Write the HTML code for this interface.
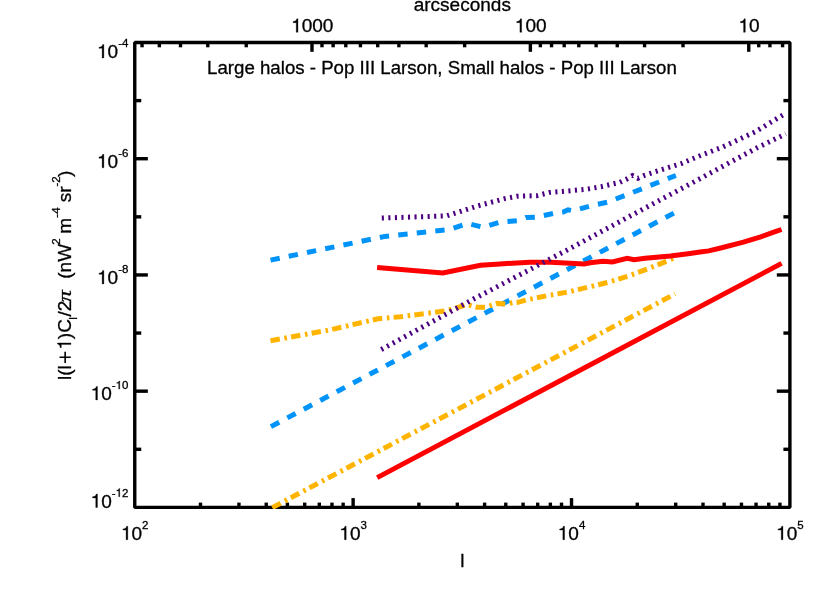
<!DOCTYPE html>
<html><head><meta charset="utf-8"><title>plot</title>
<style>
html,body{margin:0;padding:0;background:#fff;}
body{width:830px;height:593px;overflow:hidden;}
svg{display:block;will-change:transform;}
text{font-family:"Liberation Sans",sans-serif;fill:#000;stroke:#000;stroke-width:0.3px;}
.pi{font-family:"Liberation Serif",serif;font-style:italic;}
</style></head><body>
<svg width="830" height="593" viewBox="0 0 830 593">
<rect x="0" y="0" width="830" height="593" fill="#fff"/>
<g stroke="#000" stroke-width="3.4" stroke-linecap="butt" fill="none">
<path d="M200.49 507.4 V502.6"/>
<path d="M238.95 507.4 V502.6"/>
<path d="M266.23 507.4 V502.6"/>
<path d="M287.39 507.4 V502.6"/>
<path d="M304.69 507.4 V502.6"/>
<path d="M319.31 507.4 V502.6"/>
<path d="M331.97 507.4 V502.6"/>
<path d="M343.14 507.4 V502.6"/>
<path d="M353.13 507.4 V498.1"/>
<path d="M418.87 507.4 V502.6"/>
<path d="M457.33 507.4 V502.6"/>
<path d="M484.61 507.4 V502.6"/>
<path d="M505.78 507.4 V502.6"/>
<path d="M523.07 507.4 V502.6"/>
<path d="M537.69 507.4 V502.6"/>
<path d="M550.35 507.4 V502.6"/>
<path d="M561.52 507.4 V502.6"/>
<path d="M571.52 507.4 V498.1"/>
<path d="M637.26 507.4 V502.6"/>
<path d="M675.71 507.4 V502.6"/>
<path d="M703 507.4 V502.6"/>
<path d="M724.16 507.4 V502.6"/>
<path d="M741.45 507.4 V502.6"/>
<path d="M756.07 507.4 V502.6"/>
<path d="M768.74 507.4 V502.6"/>
<path d="M779.91 507.4 V502.6"/>
<path d="M782.58 42.5 V47.3"/>
<path d="M769.91 42.5 V47.3"/>
<path d="M758.74 42.5 V47.3"/>
<path d="M748.75 42.5 V51.8"/>
<path d="M683.01 42.5 V47.3"/>
<path d="M644.56 42.5 V47.3"/>
<path d="M617.27 42.5 V47.3"/>
<path d="M596.11 42.5 V47.3"/>
<path d="M578.82 42.5 V47.3"/>
<path d="M564.2 42.5 V47.3"/>
<path d="M551.53 42.5 V47.3"/>
<path d="M540.36 42.5 V47.3"/>
<path d="M530.37 42.5 V51.8"/>
<path d="M464.63 42.5 V47.3"/>
<path d="M426.17 42.5 V47.3"/>
<path d="M398.89 42.5 V47.3"/>
<path d="M377.72 42.5 V47.3"/>
<path d="M360.43 42.5 V47.3"/>
<path d="M345.81 42.5 V47.3"/>
<path d="M333.15 42.5 V47.3"/>
<path d="M321.98 42.5 V47.3"/>
<path d="M311.98 42.5 V51.8"/>
<path d="M246.24 42.5 V47.3"/>
<path d="M207.79 42.5 V47.3"/>
<path d="M180.5 42.5 V47.3"/>
<path d="M159.34 42.5 V47.3"/>
<path d="M142.05 42.5 V47.3"/>
<path d="M134.75 100.61 H141.25"/>
<path d="M789.9 100.61 H783.4"/>
<path d="M134.75 158.72 H147.85"/>
<path d="M789.9 158.72 H776.8"/>
<path d="M134.75 216.84 H141.25"/>
<path d="M789.9 216.84 H783.4"/>
<path d="M134.75 274.95 H147.85"/>
<path d="M789.9 274.95 H776.8"/>
<path d="M134.75 333.06 H141.25"/>
<path d="M789.9 333.06 H783.4"/>
<path d="M134.75 391.17 H147.85"/>
<path d="M789.9 391.17 H776.8"/>
<path d="M134.75 449.29 H141.25"/>
<path d="M789.9 449.29 H783.4"/>
</g>
<rect x="134.75" y="42.5" width="655.15" height="464.9" fill="none" stroke="#000" stroke-width="3.4" stroke-linejoin="bevel"/>
<clipPath id="c"><rect x="132.75" y="40.5" width="659.15" height="468.6"/></clipPath>
<g clip-path="url(#c)">
<path d="M270.5 260.1 L384.8 236.4 L449 229.6 L467.4 223.5 L483 227.2 L500 222.1 L518 220.6 L526 217.5 L536 217.2 L554.2 213.2 L563.2 212 L568 209.8 L573 210.8 L590.3 206 L608 202 L675.9 175.5" fill="none" stroke="#0094fa" stroke-width="5" stroke-linejoin="miter" stroke-linecap="butt" stroke-dasharray="9.4 9.21"/>
<path d="M270.9 426.6 L674.8 212.6" fill="none" stroke="#0094fa" stroke-width="5" stroke-linejoin="miter" stroke-linecap="butt" stroke-dasharray="9.4 9.21"/>
<path d="M270.5 340.7 L330.8 329.7 L378 318.8 L400 316.8 L445 311 L467.3 304.7 L476.5 307.2 L486 307.2 L497 303.4 L506.5 304.1 L512.5 302.7 L518 302.3 L527.6 299.7 L547 295.7 L568 292.1 L587.5 287.3 L608.3 282.3 L628.3 276.1 L647.6 268.9 L666.9 261.1 L674.9 257.8" fill="none" stroke="#ffb400" stroke-width="5" stroke-linejoin="miter" stroke-linecap="butt" stroke-dasharray="9.45 4.65 2.6 4.2"/>
<path d="M272.3 507.6 L675.1 293.87" fill="none" stroke="#ffb400" stroke-width="5" stroke-linejoin="miter" stroke-linecap="butt" stroke-dasharray="9.45 4.7 2.6 4.26"/>
<path d="M377.1 267.6 L442.8 273 L480.5 265.2 L500 263.9 L530 262.3 L550.6 262.3 L584.3 264.1 L590 262.7 L603 261.3 L612.4 262 L627.2 258.4 L634.1 259.8 L645 258.3 L670.5 256 L690 253.4 L700 252.1 L708.7 250.9 L721.7 247.7 L743.4 242.2 L760.7 236.8 L775.9 231.4 L781.6 229.5" fill="none" stroke="#fe0000" stroke-width="5" stroke-linejoin="miter" stroke-linecap="butt"/>
<path d="M377.2 477.6 L781.6 263.4" fill="none" stroke="#fe0000" stroke-width="5" stroke-linejoin="miter" stroke-linecap="butt"/>
<path d="M381.8 218.1 L447 215.8 L478.2 205.8 L504.7 198.6 L516.8 196.3 L536.7 195.7 L549.3 192.5 L562 191.5 L587.3 189.1 L601.1 186.7 L619.9 182.3 L626 179.5 L632.5 175.6 L638 178.3 L644.6 175.3 L662.7 169.3 L681.9 163.3 L699.4 156 L722.9 146.9 L754.9 132 L783.3 114.7" fill="none" stroke="#4b0082" stroke-width="5" stroke-linejoin="miter" stroke-linecap="butt" stroke-dasharray="2.1 4.446"/>
<path d="M381.3 349.5 L474 298.8 L567 250.1 L641 210.2 L699.4 179 L756.6 148 L785.8 133.9" fill="none" stroke="#4b0082" stroke-width="5" stroke-linejoin="miter" stroke-linecap="butt" stroke-dasharray="2.1 4.443"/>
</g>
<path transform="translate(120.99 539.7) scale(0.01900 -0.01900)" d="M359 0 H268 V505 H101 V566 C205 570 272 598 297 709 H359 Z" fill="#000" stroke="#000" stroke-width="15.79"/>
<text x="131.55" y="539.7" font-size="19">0</text>
<text x="142.12" y="528.9" font-size="11.5">2</text>
<path transform="translate(339.37 539.7) scale(0.01900 -0.01900)" d="M359 0 H268 V505 H101 V566 C205 570 272 598 297 709 H359 Z" fill="#000" stroke="#000" stroke-width="15.79"/>
<text x="349.94" y="539.7" font-size="19">0</text>
<text x="360.5" y="528.9" font-size="11.5">3</text>
<path transform="translate(557.76 539.7) scale(0.01900 -0.01900)" d="M359 0 H268 V505 H101 V566 C205 570 272 598 297 709 H359 Z" fill="#000" stroke="#000" stroke-width="15.79"/>
<text x="568.32" y="539.7" font-size="19">0</text>
<text x="578.88" y="528.9" font-size="11.5">4</text>
<path transform="translate(776.14 539.7) scale(0.01900 -0.01900)" d="M359 0 H268 V505 H101 V566 C205 570 272 598 297 709 H359 Z" fill="#000" stroke="#000" stroke-width="15.79"/>
<text x="786.7" y="539.7" font-size="19">0</text>
<text x="797.27" y="528.9" font-size="11.5">5</text>
<path transform="translate(291.16 32.3) scale(0.01900 -0.01900)" d="M359 0 H268 V505 H101 V566 C205 570 272 598 297 709 H359 Z" fill="#000" stroke="#000" stroke-width="15.79"/>
<text x="301.72" y="32.3" font-size="19">000</text>
<path transform="translate(514.82 32.3) scale(0.01900 -0.01900)" d="M359 0 H268 V505 H101 V566 C205 570 272 598 297 709 H359 Z" fill="#000" stroke="#000" stroke-width="15.79"/>
<text x="525.39" y="32.3" font-size="19">00</text>
<path transform="translate(738.49 32.3) scale(0.01900 -0.01900)" d="M359 0 H268 V505 H101 V566 C205 570 272 598 297 709 H359 Z" fill="#000" stroke="#000" stroke-width="15.79"/>
<text x="749.05" y="32.3" font-size="19">0</text>
<path transform="translate(97.05 57.95) scale(0.01900 -0.01900)" d="M359 0 H268 V505 H101 V566 C205 570 272 598 297 709 H359 Z" fill="#000" stroke="#000" stroke-width="15.79"/>
<text x="107.61" y="57.95" font-size="19">0</text>
<text x="118.18" y="47.15" font-size="11.5">-4</text>
<path transform="translate(97.05 167.8) scale(0.01900 -0.01900)" d="M359 0 H268 V505 H101 V566 C205 570 272 598 297 709 H359 Z" fill="#000" stroke="#000" stroke-width="15.79"/>
<text x="107.61" y="167.8" font-size="19">0</text>
<text x="118.18" y="157" font-size="11.5">-6</text>
<path transform="translate(97.05 283.9) scale(0.01900 -0.01900)" d="M359 0 H268 V505 H101 V566 C205 570 272 598 297 709 H359 Z" fill="#000" stroke="#000" stroke-width="15.79"/>
<text x="107.61" y="283.9" font-size="19">0</text>
<text x="118.18" y="273.1" font-size="11.5">-8</text>
<path transform="translate(90.65 399.9) scale(0.01900 -0.01900)" d="M359 0 H268 V505 H101 V566 C205 570 272 598 297 709 H359 Z" fill="#000" stroke="#000" stroke-width="15.79"/>
<text x="101.22" y="399.9" font-size="19">0</text>
<text x="111.78" y="389.1" font-size="11.5">-</text>
<path transform="translate(115.61 389.1) scale(0.01150 -0.01150)" d="M359 0 H268 V505 H101 V566 C205 570 272 598 297 709 H359 Z" fill="#000" stroke="#000" stroke-width="26.09"/>
<text x="122.01" y="389.1" font-size="11.5">0</text>
<path transform="translate(90.65 507.5) scale(0.01900 -0.01900)" d="M359 0 H268 V505 H101 V566 C205 570 272 598 297 709 H359 Z" fill="#000" stroke="#000" stroke-width="15.79"/>
<text x="101.22" y="507.5" font-size="19">0</text>
<text x="111.78" y="496.7" font-size="11.5">-</text>
<path transform="translate(115.61 496.7) scale(0.01150 -0.01150)" d="M359 0 H268 V505 H101 V566 C205 570 272 598 297 709 H359 Z" fill="#000" stroke="#000" stroke-width="26.09"/>
<text x="122.01" y="496.7" font-size="11.5">2</text>
<text x="462.32" y="10.9" font-size="19" text-anchor="middle">arcseconds</text>
<text x="462.32" y="567.2" font-size="19" text-anchor="middle">l</text>
<text x="207.1" y="73.5" font-size="18.66">Large halos - Pop III Larson, Small halos - Pop III Larson</text>
<g transform="translate(70.9 380) rotate(-90)">
<text x="0" y="0" font-size="19">l(l</text>
<path d="M17.1 -5.75 H28.3 M22.7 -0.1 V-11.4" stroke="#000" stroke-width="1.6" fill="none"/>
<path transform="translate(30.3 0) scale(0.01900 -0.01900)" d="M359 0 H268 V505 H101 V566 C205 570 272 598 297 709 H359 Z" fill="#000" stroke="#000" stroke-width="15.79"/>
<text x="40.86" y="0" font-size="19">)C</text>
<text x="60.3" y="5.6" font-size="11.5">l</text>
<text x="63.5" y="0" font-size="19">/2</text>
<text transform="translate(77.7 0) scale(1.27 1)" font-size="19" class="pi">&#960;</text>
<text x="101.3" y="0" font-size="19">(nW</text>
<text x="135.3" y="-10.8" font-size="11.5">2</text>
<text x="146.3" y="0" font-size="19">m</text>
<text x="162.3" y="-10.8" font-size="11.5">-4</text>
<text x="177.7" y="0" font-size="19">sr</text>
<text x="193.5" y="-10.8" font-size="11.5">-2</text>
<text x="203" y="0" font-size="19">)</text>
</g>
</svg></body></html>
